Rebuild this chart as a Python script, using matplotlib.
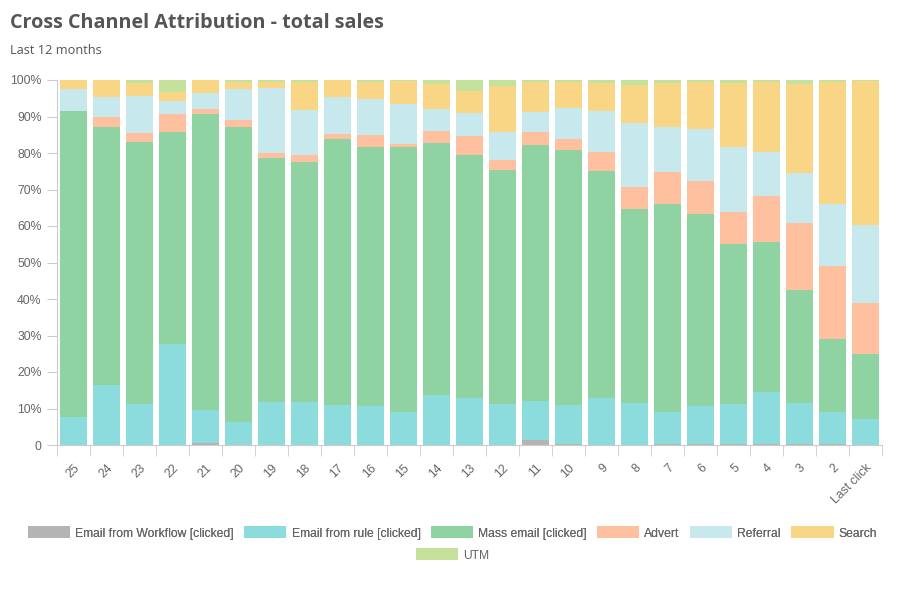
import numpy as np
import matplotlib
matplotlib.use("Agg")
import matplotlib.pyplot as plt
from matplotlib.patches import Patch

categories = ["25", "24", "23", "22", "21", "20", "19", "18", "17", "16", "15", "14", "13",
              "12", "11", "10", "9", "8", "7", "6", "5", "4", "3", "2", "Last click"]

# share of sales per channel (%), one value per category
workflow = [0, 0, 0, 0, 0.6, 0, 0, 0, 0, 0, 0, 0, 0, 0, 1.5, 0.4, 0, 0, 0.3, 0.3, 0.3, 0.3, 0.3, 0.3, 0]
rule = [7.8, 16.4, 11.2, 27.7, 9.0, 6.3, 11.8, 11.8, 11.0, 10.7, 9.0, 13.7, 12.9,
        11.2, 10.6, 10.6, 12.9, 11.5, 8.7, 10.4, 10.9, 14.2, 11.2, 8.7, 7.1]
mass = [83.7, 70.7, 71.8, 58.1, 81.2, 80.8, 66.8, 65.7, 72.8, 70.9, 72.6, 69.0, 66.6,
        64.1, 70.1, 69.8, 62.2, 53.2, 57.0, 52.6, 43.9, 41.1, 31.0, 20.0, 17.8]
advert = [0, 2.8, 2.5, 5.0, 1.3, 2.0, 1.4, 2.0, 1.4, 3.3, 0.9, 3.3, 5.2,
          2.9, 3.6, 3.0, 5.3, 6.0, 8.8, 9.0, 8.7, 12.6, 18.3, 20.0, 14.0]
referral = [6.0, 5.4, 10.2, 3.4, 4.3, 8.4, 17.9, 12.4, 10.1, 9.9, 11.0, 6.1, 6.3,
            7.6, 5.5, 8.6, 11.1, 17.5, 12.3, 14.3, 17.8, 12.1, 13.7, 17.0, 21.4]
search = [2.5, 4.7, 3.6, 2.6, 3.6, 2.0, 1.6, 7.6, 4.7, 4.7, 6.2, 6.9, 6.0,
          12.6, 8.2, 7.1, 7.8, 10.4, 12.2, 12.9, 17.7, 19.2, 24.5, 33.5, 39.4]
utm = [0, 0, 0.7, 3.2, 0, 0.5, 0.5, 0.5, 0, 0.5, 0.3, 1.0, 3.0,
       1.6, 0.5, 0.5, 0.7, 1.4, 0.7, 0.5, 0.7, 0.5, 1.0, 0.5, 0.3]

series = [
    ("Email from Workflow [clicked]", workflow, "#b4b4b4"),
    ("Email from rule [clicked]", rule, "#8ddcdd"),
    ("Mass email [clicked]", mass, "#8fd3a3"),
    ("Advert", advert, "#ffc0a0"),
    ("Referral", referral, "#c7e8ed"),
    ("Search", search, "#f9d685"),
    ("UTM", utm, "#c4e29b"),
]

plt.rcParams['font.family'] = ['Liberation Sans', 'DejaVu Sans']

fig = plt.figure(figsize=(9.05, 5.93), dpi=100)
ax = fig.add_axes([57 / 905, 1 - 445 / 593, (882 - 57) / 905, (445 - 80) / 593])

x = np.arange(len(categories))
bottom = np.zeros(len(categories))
for name, vals, col in series:
    vals = np.array(vals, dtype=float)
    ax.bar(x, vals, width=0.82, bottom=bottom, color=col, linewidth=0)
    bottom += vals

ax.set_xlim(-0.5, len(categories) - 0.5)
ax.set_ylim(0, 100)

ax.set_yticks(np.arange(0, 101, 10))
ax.set_yticklabels(["0"] + [f"{v}%" for v in range(10, 101, 10)])
ax.set_xticks(x)
ax.set_xticklabels(categories, rotation=45, ha="right", rotation_mode="anchor")
ax.set_xticks(np.arange(-0.5, len(categories), 1), minor=True)

ax.tick_params(axis="y", length=7, color="#cccccc", labelcolor="#666666", labelsize=8.8, pad=4)
ax.tick_params(axis="x", which="major", length=0, labelcolor="#666666", labelsize=8.8, pad=12)
ax.tick_params(axis="x", which="minor", length=8, color="#cccccc")

for s in ["top", "right"]:
    ax.spines[s].set_visible(False)
for s in ["left", "bottom"]:
    ax.spines[s].set_color("#cccccc")

fig.text(10 / 905, 1 - 23 / 593, "Cross Channel Attribution - total sales",
         fontsize=14.2, fontweight="bold", color="#555555", va="center",
         family=["Open Sans", "DejaVu Sans"])
fig.text(10 / 905, 1 - 51 / 593, "Last 12 months", fontsize=9.2, color="#555555",
         va="center", family=["Open Sans", "DejaVu Sans"])

handles = [Patch(facecolor=c, edgecolor="none", label=n) for n, v, c in series]
leg_kw = dict(frameon=False, fontsize=8.7, handlelength=3.5, handleheight=1.15,
              handletextpad=0.42, columnspacing=0.85, labelcolor="#666666", borderpad=0)
leg1 = fig.legend(handles=handles[:6], ncol=6, loc="center",
                  bbox_to_anchor=(0.5, 1 - 533 / 593), **leg_kw)
fig.add_artist(leg1)
fig.legend(handles=handles[6:], ncol=1, loc="center",
           bbox_to_anchor=(0.5, 1 - 555 / 593), **leg_kw)

fig.savefig("out.png", dpi=100)
